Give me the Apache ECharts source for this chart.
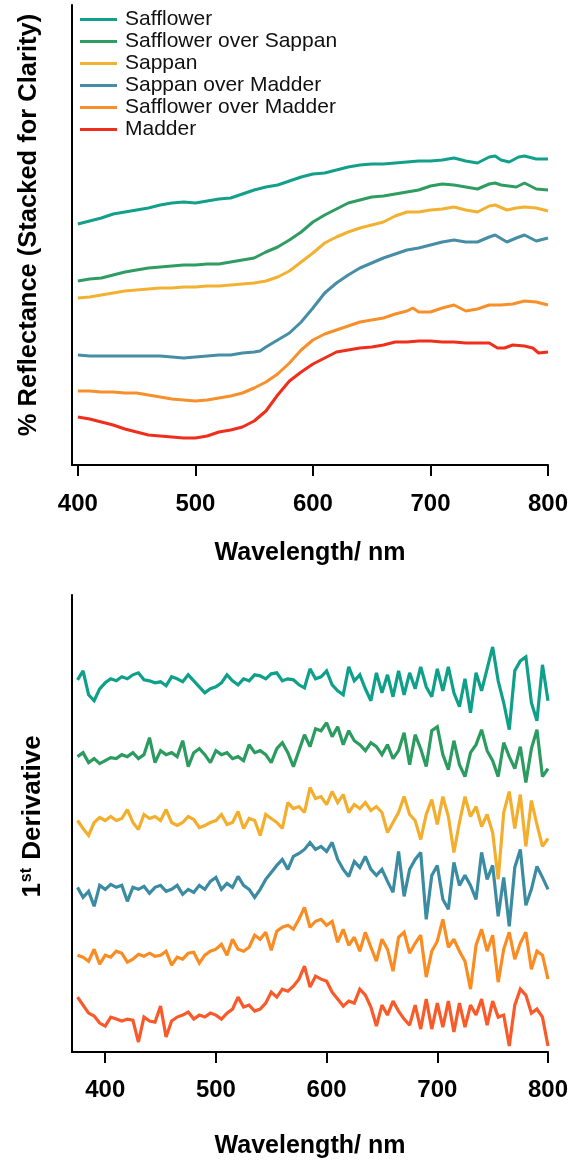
<!DOCTYPE html>
<html>
<head>
<meta charset="utf-8">
<script src="https://cdn.jsdelivr.net/npm/echarts@6/dist/echarts.min.js"></script>
<style>
html,body{margin:0;padding:0;background:#fff;}
#chart{width:572px;height:1160px;}
</style>
</head>
<body>
<div id="chart"></div>
<script>
// ---------- DATA ----------
const seriesNames = ['Safflower', 'Safflower over Sappan', 'Sappan', 'Sappan over Madder', 'Safflower over Madder', 'Madder'];
const tickLabels = [400, 500, 600, 700, 800];

// Top panel: reflectance (stacked, arbitrary units) as [wavelength nm, value]
const reflSafflower = [[400,241],[410,244],[420,247],[430,251],[440,253],[450,255],[460,257],[470,260],[480,262],[490,263],[500,262],[510,264],[520,266],[530,267],[540,271],[550,275],[560,278],[570,280],[580,284],[590,288],[600,291],[610,292],[620,295],[630,298],[640,300],[650,301],[660,301],[670,302],[680,303],[690,304],[700,304],[710,305],[720,307],[730,304],[740,302],[750,308],[755,309],[760,305],[767,303],[775,308],[780,309],[790,306],[800,306]];
const reflSafflowerSappan = [[400,184],[410,186],[420,187],[430,190],[440,193],[450,195],[460,197],[470,198],[480,199],[490,200],[500,200],[510,201],[520,201],[530,203],[540,205],[550,207],[560,213],[570,218],[580,225],[590,233],[600,243],[610,250],[620,256],[630,262],[640,265],[650,268],[660,269],[670,271],[680,273],[690,275],[700,279],[710,281],[720,280],[730,278],[740,276],[750,281],[755,282],[760,280],[773,278],[780,282],[790,276],[800,275]];
const reflSappan = [[400,167],[410,168],[420,170],[430,172],[440,174],[450,175],[460,176],[470,177],[480,177],[490,178],[500,178],[510,179],[520,179],[530,180],[540,181],[550,182],[560,184],[570,188],[580,194],[590,203],[600,212],[610,222],[620,228],[630,233],[640,237],[650,240],[660,243],[670,249],[680,253],[690,253],[700,255],[710,256],[720,258],[730,255],[740,253],[750,259],[755,260],[765,255],[773,257],[780,258],[790,257],[800,254]];
const reflSappanMadder = [[400,110],[410,109],[420,109],[430,109],[440,109],[450,109],[460,109],[470,109],[480,108],[490,107],[500,108],[510,109],[520,110],[530,110],[540,112],[550,113],[555,114],[560,118],[570,125],[580,132],[590,143],[600,157],[610,172],[620,182],[630,190],[640,197],[650,202],[660,207],[670,211],[680,215],[690,217],[700,220],[710,223],[720,225],[730,223],[740,223],[750,228],[755,230],[765,223],[773,227],[780,230],[790,224],[800,227]];
const reflSafflowerMadder = [[400,74],[410,74],[420,73],[430,73],[440,72],[450,72],[460,70],[470,68],[480,66],[490,65],[500,64],[510,65],[520,67],[530,69],[540,72],[550,77],[560,83],[570,91],[580,102],[590,115],[600,125],[610,131],[620,135],[630,139],[640,143],[650,145],[660,147],[670,151],[680,154],[685,157],[690,153],[700,153],[710,157],[720,160],[730,154],[740,156],[750,160],[760,160],[770,161],[780,164],[790,163],[800,160]];
const reflMadder = [[400,48],[410,46],[420,43],[430,40],[440,36],[450,33],[460,30],[470,29],[480,28],[490,27],[500,27],[510,29],[520,33],[530,35],[540,38],[550,44],[560,54],[570,70],[580,84],[590,93],[600,101],[610,107],[620,113],[630,115],[640,117],[650,118],[660,120],[670,123],[680,123],[690,124],[700,124],[710,123],[720,123],[730,122],[740,122],[750,122],[757,117],[763,117],[770,120],[780,119],[787,117],[792,112],[800,113]];

// Bottom panel: 1st derivative (arbitrary units), sampled every 5 nm
const derivWavelengths = [375,380,385,390,395,400,405,410,415,420,425,430,435,440,445,450,455,460,465,470,475,480,485,490,495,500,505,510,515,520,525,530,535,540,545,550,555,560,565,570,575,580,585,590,595,600,605,610,615,620,625,630,635,640,645,650,655,660,665,670,675,680,685,690,695,700,705,710,715,720,725,730,735,740,745,750,755,760,765,770,775,780,785,790,795,800];
const derivSafflower = [3,12,-12,-18,-6,0,4,2,6,4,8,10,3,2,0,1,-3,6,4,1,8,2,-4,-10,-6,-4,0,8,2,-2,4,2,8,7,4,9,10,2,4,3,-2,-5,14,4,
  6,12,-2,-8,-12,16,2,8,-6,-18,10,-10,8,-14,12,-12,10,-6,16,-4,-14,14,-8,16,-10,-24,4,-30,10,-8,14,36,2,-20,-47,12,22,26,-20,-38,18,-18];
const derivSafflowerSappan = [-2,2,-8,-4,-9,-6,-3,-4,0,-2,2,-4,0,17,-8,4,0,2,-2,14,-12,2,6,0,-8,4,0,2,-4,-2,-6,10,2,4,0,-8,6,12,2,-12,4,20,8,26,
  24,32,18,28,10,24,14,10,4,12,8,0,10,-4,4,22,-10,20,6,-12,24,28,0,-15,14,-10,-22,2,10,25,4,-6,-22,12,-2,-14,8,-28,6,25,-22,-14];
const derivSappan = [2,-6,-13,0,5,2,6,2,4,13,0,-7,8,4,6,2,13,0,-3,0,6,3,-5,-3,0,2,8,-2,0,11,-6,4,2,-13,8,4,0,-6,20,14,16,10,35,24,
  26,18,31,20,28,10,18,14,20,12,16,10,-10,0,10,26,8,2,-17,8,23,-2,26,6,-30,0,26,6,16,-4,8,-10,-57,10,31,-6,28,-24,22,-2,-24,-16];
const derivSappanMadder = [2,-8,-2,-17,4,0,5,2,4,-12,2,0,3,-4,2,4,-2,0,4,-5,0,-3,4,0,8,12,0,6,2,13,4,0,-8,0,10,17,24,30,20,33,36,40,47,40,
  43,38,47,30,20,13,28,22,33,20,14,20,8,-3,38,-7,20,30,37,-30,14,24,-10,-20,27,4,14,4,-10,37,10,24,-27,12,-37,22,40,-16,0,23,12,0];
const derivSafflowerMadder = [2,0,-4,8,-7,2,0,6,4,-5,-2,3,1,4,1,2,6,-8,0,-2,4,5,-6,2,6,8,13,2,18,8,6,10,22,18,25,7,26,30,32,28,38,50,30,36,
  38,32,36,15,28,12,20,6,25,10,-4,18,8,-14,20,25,4,14,22,-20,6,16,38,10,18,6,-4,-32,12,28,6,22,-25,8,25,-2,14,25,-12,6,2,-22];
const derivMadder = [22,14,6,3,-4,-7,2,0,-2,0,-1,-23,2,-2,-3,13,-18,-2,2,4,7,0,4,2,6,4,0,6,10,22,12,14,8,10,16,27,22,30,28,33,40,53,32,43,
  40,38,27,20,13,18,16,30,24,12,-7,14,4,18,8,0,-6,14,-10,20,-10,16,-8,18,-13,16,-8,14,4,20,-6,18,2,4,-27,14,30,24,6,10,2,-27];
// vertical offsets used to stack the derivative traces
const derivOffsets = [370, 298, 230, 163, 95, 33];

// ---------- STYLE ----------
const topColors = ['#13a08b', '#2f9d62', '#f2b131', '#468ea6', '#f7902a', '#ef2e1c'];
const botColors = ['#0fa08a', '#2c9b60', '#f3ae2e', '#3b8ca3', '#f98c22', '#f95a29'];
const FONT = '"Liberation Sans", Arial, Helvetica, sans-serif';

const reflData = [reflSafflower, reflSafflowerSappan, reflSappan, reflSappanMadder, reflSafflowerMadder, reflMadder];
const derivData = [derivSafflower, derivSafflowerSappan, derivSappan, derivSappanMadder, derivSafflowerMadder, derivMadder];

const series = [];
reflData.forEach((d, i) => {
  series.push({
    name: seriesNames[i], type: 'line', xAxisIndex: 0, yAxisIndex: 0,
    data: d, showSymbol: false, symbol: 'none', smooth: false,
    lineStyle: { color: topColors[i], width: 3 }, itemStyle: { color: topColors[i] },
    z: 10 - i, animation: false
  });
});
derivData.forEach((d, i) => {
  series.push({
    name: seriesNames[i] + ' (1st derivative)', type: 'line', xAxisIndex: 1, yAxisIndex: 1,
    data: derivWavelengths.map((w, k) => [w, d[k] + derivOffsets[i]]),
    showSymbol: false, symbol: 'none',
    lineStyle: { color: botColors[i], width: 3.2, join: 'miter', miterLimit: 2 }, itemStyle: { color: botColors[i] },
    z: 10 - i, animation: false
  });
});

const xAxisCommon = {
  type: 'value', max: 800,
  axisLine: { show: true, onZero: false, lineStyle: { color: '#000', width: 2 } },
  axisTick: { show: true, length: 11, lineStyle: { color: '#000', width: 2 }, customValues: tickLabels },
  axisLabel: { color: '#000', fontFamily: FONT, fontWeight: 'bold', fontSize: 24, customValues: tickLabels },
  splitLine: { show: false },
  name: 'Wavelength/ nm', nameLocation: 'middle',
  nameTextStyle: { color: '#000', fontFamily: FONT, fontWeight: 'bold', fontSize: 25 }
};
const yAxisCommon = {
  type: 'value', min: 0,
  axisLine: { show: true, lineStyle: { color: '#000', width: 2 } },
  axisTick: { show: false }, axisLabel: { show: false }, splitLine: { show: false },
  nameLocation: 'middle'
};

const option = {
  backgroundColor: '#fff',
  animation: false,
  legend: {
    data: seriesNames, orient: 'vertical', left: 80, top: 9, padding: 0,
    icon: 'rect', itemWidth: 37, itemHeight: 3, itemGap: 1,
    textStyle: { color: '#111', fontFamily: FONT, fontSize: 21, lineHeight: 21, padding: [0, 0, 0, 3] },
    selectedMode: false
  },
  grid: [
    { left: 72, right: 24, top: 5, height: 460 },
    { left: 72, right: 24, top: 595, height: 458 }
  ],
  xAxis: [
    Object.assign({}, xAxisCommon, { gridIndex: 0, min: 395, nameGap: 76,
      axisLabel: Object.assign({}, xAxisCommon.axisLabel, { margin: 27 }) }),
    Object.assign({}, xAxisCommon, { gridIndex: 1, min: 370, nameGap: 82,
      axisLabel: Object.assign({}, xAxisCommon.axisLabel, { margin: 26 }) })
  ],
  yAxis: [
    Object.assign({}, yAxisCommon, { gridIndex: 0, max: 460, name: '% Reflectance (Stacked for Clarity)', nameGap: 30,
      nameTextStyle: { color: '#000', fontFamily: FONT, fontWeight: 'bold', fontSize: 25.5, padding: [0, 0, 0, 20] } }),
    Object.assign({}, yAxisCommon, { gridIndex: 1, max: 458, name: '{a|1}{s|st} {a|Derivative}', nameGap: 25,
      nameTextStyle: { color: '#000', fontFamily: FONT, fontWeight: 'bold', fontSize: 26, padding: [0, 0, 0, 14],
        rich: {
          a: { fontFamily: FONT, fontWeight: 'bold', fontSize: 26, color: '#000' },
          s: { fontFamily: FONT, fontWeight: 'bold', fontSize: 16, color: '#000', verticalAlign: 'top', padding: [0, 1, 12, 1] }
        } } })
  ],
  series: series
};

const chart = echarts.init(document.getElementById('chart'), null, { renderer: 'canvas' });
chart.setOption(option);
</script>
</body>
</html>
